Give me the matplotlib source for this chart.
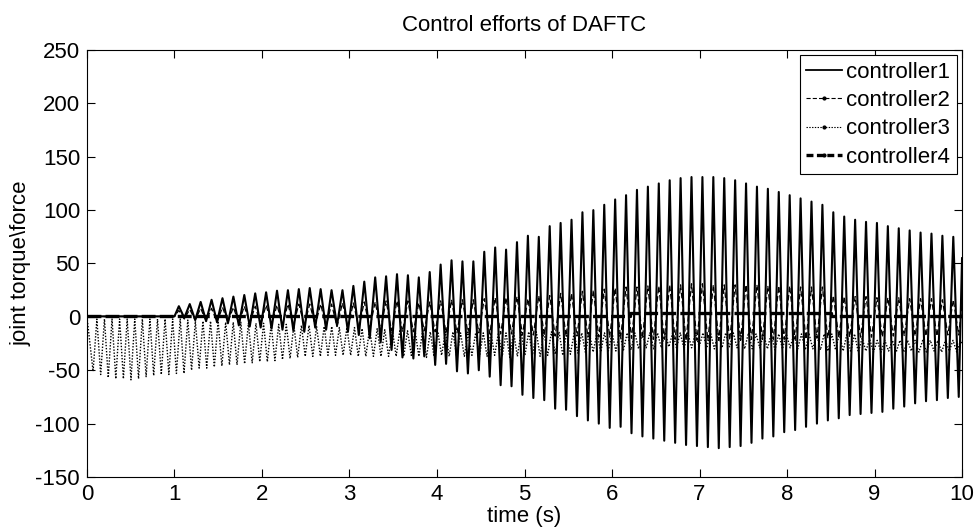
import numpy as np
import matplotlib
matplotlib.use('Agg')
import matplotlib.pyplot as plt
from matplotlib.lines import Line2D

plt.rcParams['font.family'] = ['Liberation Sans', 'DejaVu Sans']
plt.rcParams['lines.scale_dashes'] = False

# ---------------- data ----------------
title = 'Control efforts of DAFTC'
x_label = 'time (s)'
y_label = 'joint torque\\force'
x_ticks = [0, 1, 2, 3, 4, 5, 6, 7, 8, 9, 10]
y_ticks = [-150, -100, -50, 0, 50, 100, 150, 200, 250]
series_labels = ['controller1', 'controller2', 'controller3', 'controller4']

# controller1: flat before 1 s, then one peak and one trough per cycle
c1_pre_t = [0.0, 1.0]
c1_pre_v = [0.5, 0.5]
c1_span = [1.05, 9.90]          # time of first and last peak
c1_peaks = [10, 12, 14, 16, 17.5, 19, 20.5, 22, 23, 24.5, 25, 26,
            27, 26, 25, 25, 29, 33, 37, 38, 40, 39,
            37, 42, 49, 53, 52, 52, 61, 65, 63, 70,
            76, 75, 85, 88, 91, 98, 100, 105, 110, 114,
            119, 122, 125, 128, 130, 131, 131, 131, 130, 128,
            125, 122, 120, 117, 114, 111, 108, 105, 98, 94, 91,
            89, 88, 85, 83, 81, 79, 78, 76, 75]
c1_troughs = [-1, -3, -4, -5, -6, -8, -9, -10, -11, -12, -13, -14,
              -10, -12, -8, -14, -17, -20, -24, -31, -38, -39,
              -37, -45, -44, -51, -53, -50, -56, -64, -65, -73,
              -76, -78, -86, -87, -93, -97, -100, -104, -103, -109,
              -112, -114, -116, -118, -120, -121, -122, -123, -122, -121,
              -118, -114, -112, -108, -106, -103, -100, -97, -95, -92, -91,
              -90, -89, -86, -84, -81, -79, -78, -76, -75]
c1_end = [10.0, 55.0]

# controller2: in phase with controller1, smaller swing
c2_pre_t = [0.0, 1.0]
c2_pre_v = [0.3, 0.3]
c2_span = [1.05, 9.90]
c2_peaks = [6, 7, 8, 8, 9, 9, 10, 10, 11, 11, 12, 12,
            12, 12, 12, 13, 13, 14, 14, 15, 15, 15,
            13, 14, 15, 16, 16, 16, 17, 18, 18, 19,
            17, 20, 20, 22, 22, 24, 25, 26, 27, 28,
            28, 29, 29, 30, 30, 31, 31, 30, 30, 30,
            30, 30, 29, 29, 29, 28, 28, 28, 20, 19, 19,
            19, 18, 18, 18, 17, 17, 17, 16, 16]
c2_troughs = [-2, -3, -4, -5, -5, -6, -6, -7, -7, -8, -8, -8,
              -8, -9, -9, -10, -10, -11, -12, -13, -14, -14,
              -13, -14, -15, -15, -15, -15, -16, -16, -16, -17,
              -17, -17, -18, -18, -18, -19, -19, -19, -20, -20,
              -20, -21, -21, -21, -22, -22, -22, -22, -22, -22,
              -21, -21, -21, -21, -21, -21, -20, -20, -19, -19, -19,
              -19, -19, -18, -18, -18, -18, -18, -17, -17]
c2_end = [10.0, 12.0]

# controller3: faster oscillation, one trough and one peak per cycle
c3_start = [0.0, 0.0]
c3_span = [0.07, 9.94]          # time of first and last trough
c3_troughs = [-51, -54, -57, -58, -58, -59, -58, -56, -55, -54, -54, -53, -53, -50, -48,
              -48, -47, -46, -45, -45, -44, -43, -42, -42, -41, -40, -39, -38, -37, -37,
              -37, -36, -36, -36, -36, -37, -37, -37, -37, -37, -37,
              -37, -36, -37, -38, -37, -36, -37, -38, -37, -36, -37, -37, -36, -37, -38, -37, -36,
              -36, -37, -36, -35, -36, -35, -34, -34, -33, -33, -32, -32, -31, -31, -30,
              -29, -30, -29, -28, -29, -30, -29, -28, -29, -30, -29, -28, -29, -30,
              -30, -29, -30, -31, -30, -29, -30, -31, -30, -31, -32, -31, -32, -33,
              -33, -32, -33, -33, -32, -33, -33, -32, -33, -33, -32, -33, -32, -33]
c3_peaks = [-2, -2, -2, -2, -2, -2, -2, -2, -2, -2, -2, -2, -3, -4, -4,
            -4, -4, -5, -5, -5, -6, -6, -6, -7, -7, -7, -8, -8, -8, -9,
            -9, -9, -10, -10, -10, -11, -11, -11, -12, -12, -12,
            -13, -13, -13, -14, -14, -14, -14, -15, -15, -15, -15, -15, -15, -15, -14, -14, -14,
            -14, -14, -14, -14, -15, -15, -15, -15, -15, -15, -15, -15, -15, -15, -15,
            -15, -15, -15, -15, -15, -15, -15, -15, -15, -15, -15, -15, -15, -15,
            -16, -16, -16, -16, -16, -16, -16, -16, -16, -16, -16, -16, -16, -16,
            -20, -21, -22, -22, -22, -22, -22, -22, -22, -22, -22, -22, -22, -22]
c3_end = [10.0, -25.0]

# controller4: nearly constant with a small step
c4_t = [0.0, 6.2, 6.2, 8.5, 8.5, 10.0]
c4_v = [0.5, 0.5, 4.0, 4.0, 0.5, 0.5]


def zigzag(span, first, second):
    n = len(first)
    t_first = np.linspace(span[0], span[1], n)
    half = (span[1] - span[0]) / (n - 1) / 2.0
    t = np.empty(2 * n)
    v = np.empty(2 * n)
    t[0::2] = t_first
    t[1::2] = t_first + half
    v[0::2] = first
    v[1::2] = second
    return t, v


t1z, v1z = zigzag(c1_span, c1_peaks, c1_troughs)
t1 = np.concatenate([c1_pre_t, t1z, [c1_end[0]]])
v1 = np.concatenate([c1_pre_v, v1z, [c1_end[1]]])

t2z, v2z = zigzag(c2_span, c2_peaks, c2_troughs)
t2 = np.concatenate([c2_pre_t, t2z, [c2_end[0]]])
v2 = np.concatenate([c2_pre_v, v2z, [c2_end[1]]])

t3z, v3z = zigzag(c3_span, c3_troughs, c3_peaks)
t3 = np.concatenate([[c3_start[0]], t3z, [c3_end[0]]])
v3 = np.concatenate([[c3_start[1]], v3z, [c3_end[1]]])

# ---------------- figure ----------------
fig = plt.figure(figsize=(9.76, 5.27), dpi=100)
ax = fig.add_axes([0.0891, 0.0949, 0.8966, 0.8102])

ax.plot(t1, v1, color='black', lw=1.5, ls='-')
ax.plot(t2, v2, color='black', lw=0.9, ls=(0, (4, 2)))
ax.plot(t3, v3, color='black', lw=1.0, ls=(0, (1, 1.2)))
ax.plot(c4_t, c4_v, color='black', lw=2.4, ls=(0, (10, 3)))

ax.set_xlim(0, 10)
ax.set_ylim(-150, 250)
ax.set_xticks(x_ticks)
ax.set_yticks(y_ticks)
ax.set_xticklabels([str(v) for v in x_ticks])
ax.set_yticklabels([str(v) for v in y_ticks])
ax.tick_params(direction='in', length=6, width=0.8, top=True, right=True,
               labelsize=16, pad=5, colors='black')
for s in ax.spines.values():
    s.set_linewidth(0.8)
    s.set_color('black')

ax.set_title(title, fontsize=16, pad=14)
ax.set_xlabel(x_label, fontsize=16, labelpad=1)
ax.set_ylabel(y_label, fontsize=16, labelpad=3)

handles = [
    Line2D([], [], color='black', lw=1.3, ls='-'),
    Line2D([], [], color='black', lw=0.8, ls=(0, (3, 1.5)), marker='.', markersize=4),
    Line2D([], [], color='black', lw=0.8, ls=(0, (1, 1)), marker='.', markersize=4),
    Line2D([], [], color='black', lw=2.4, ls=(0, (5, 2.5)), marker='.', markersize=4),
]
leg = ax.legend(handles, series_labels, loc='upper right',
                bbox_to_anchor=(0.9943, 0.9883), borderaxespad=0,
                fontsize=16, handlelength=1.6, handletextpad=0.2,
                borderpad=0.3, labelspacing=0.33, numpoints=1,
                fancybox=False, framealpha=1, edgecolor='black')
leg.get_frame().set_linewidth(0.8)

fig.savefig('out.png', dpi=100)
